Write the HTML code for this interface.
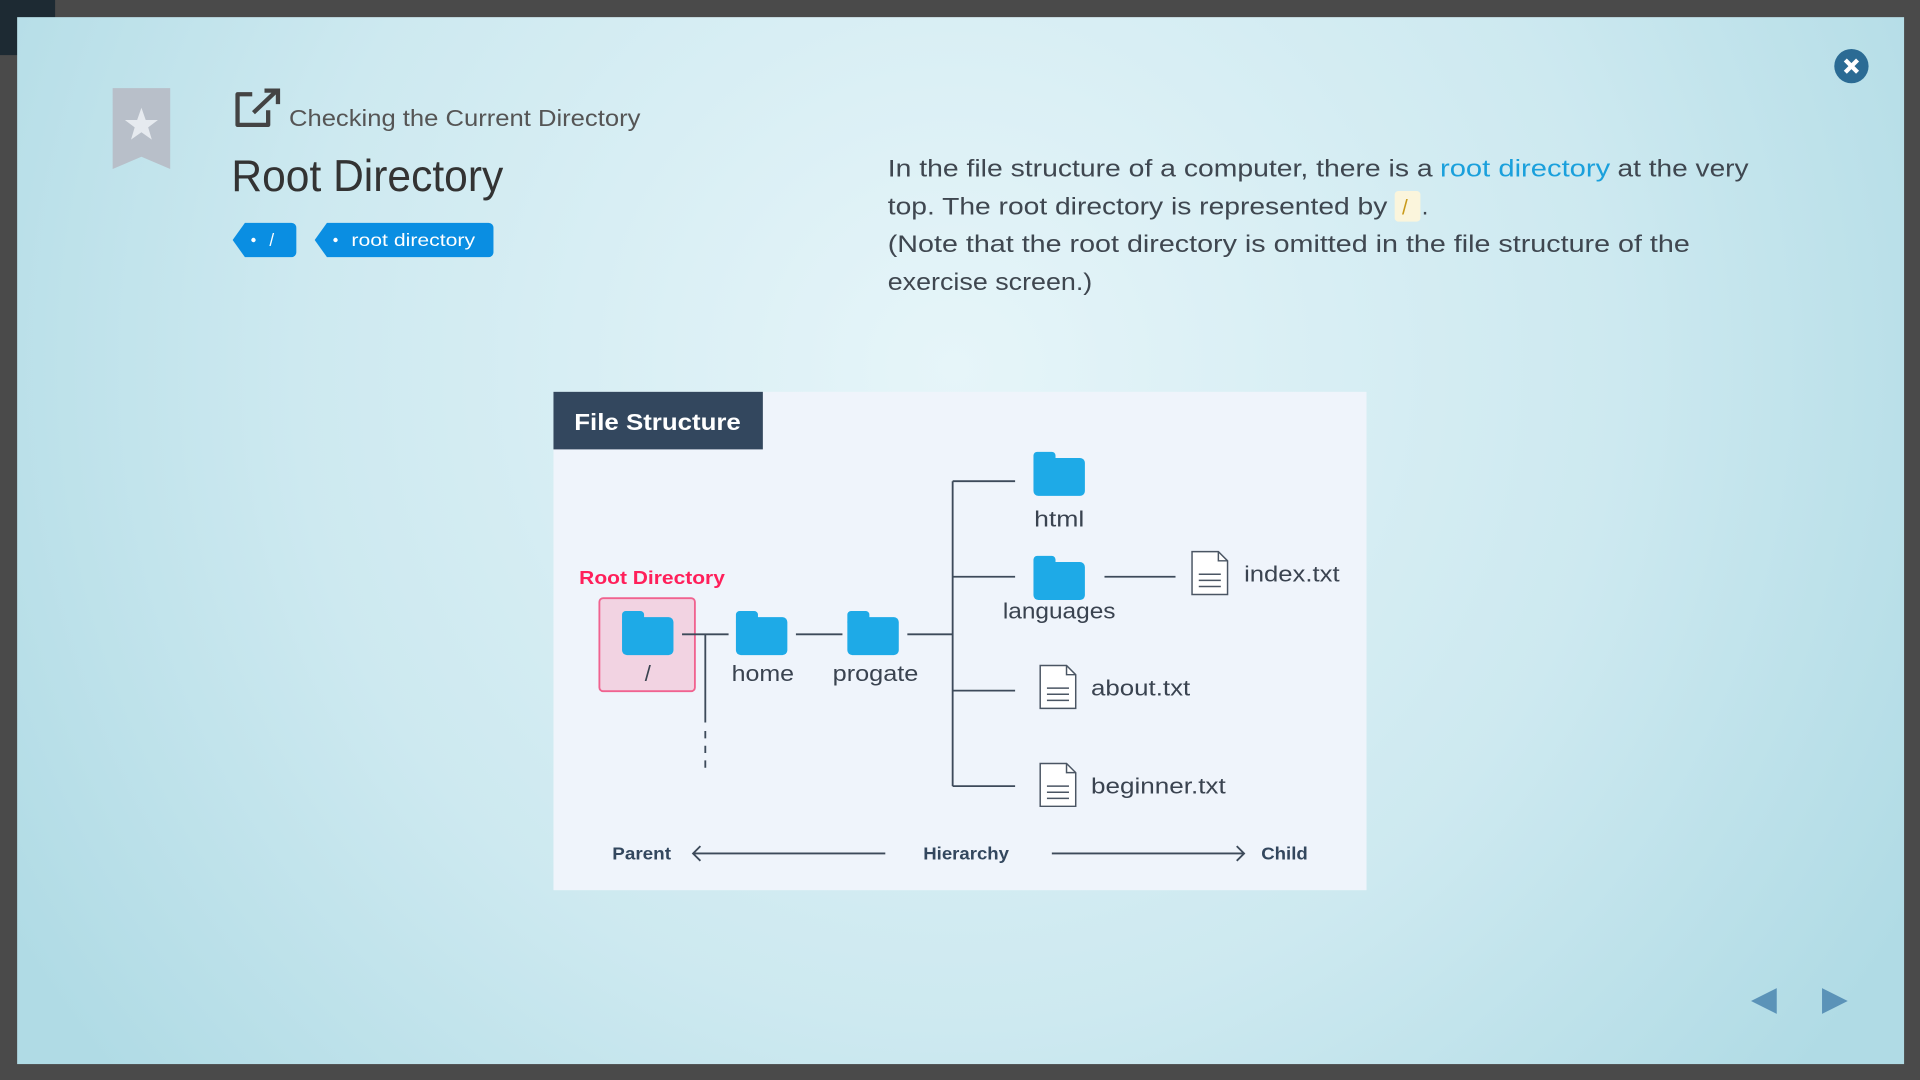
<!DOCTYPE html>
<html><head><meta charset="utf-8"><style>
html,body{margin:0;padding:0;width:1920px;height:1080px;overflow:hidden;background:#4a4a4a}
svg{display:block}
text{font-family:"Liberation Sans",sans-serif}
</style></head><body>
<svg width="1920" height="1080" viewBox="0 0 1568 882" xmlns="http://www.w3.org/2000/svg">
<defs>
<radialGradient id="bg" cx="780" cy="300" r="900" gradientUnits="userSpaceOnUse">
<stop offset="0" stop-color="#e6f5f9"/><stop offset="0.6" stop-color="#cde9f0"/><stop offset="1" stop-color="#b0dbe5"/>
</radialGradient>
<g id="fold"><rect x="-21" y="0" width="18" height="12" rx="3" fill="#1eaae7"/><rect x="-21" y="5" width="42" height="31" rx="4" fill="#1eaae7"/></g>
<g id="file"><path d="M0.5,0.5 H22 L29.5,8 V35.5 H0.5 Z" fill="#fff" stroke="#4a5563" stroke-width="1.2"/><path d="M22,0.5 V8 H29.5" fill="none" stroke="#4a5563" stroke-width="1.2"/><path d="M6,19H24M6,24H24M6,29H24" stroke="#4a5563" stroke-width="1.2"/></g>
</defs>
<rect width="1568" height="882" fill="#4a4a4a"/>
<rect x="0" y="0" width="45" height="45" fill="#1d2a33"/>
<rect x="14" y="14" width="1541" height="855" fill="url(#bg)"/>
<path d="M92,72 H139 V138 L115.5,128 L92,138 Z" fill="#b8bfc9"/>
<path d="M115.5,88 L119,98 L129,98 L121,104 L124,114 L115.5,108 L107,114 L110,104 L102,98 L112,98 Z" fill="#e6eaef"/>
<path d="M206,77 H194 V102 H219 V90" fill="none" stroke="#444" stroke-width="3.5" stroke-linejoin="round"/>
<path d="M207,92 L225,75 M216,74 H227 V85" fill="none" stroke="#444" stroke-width="3.5"/>
<text x="236" y="103" font-size="19" fill="#555" textLength="287" lengthAdjust="spacingAndGlyphs">Checking the Current Directory</text>
<text x="189" y="156" font-size="36" fill="#333" textLength="222" lengthAdjust="spacingAndGlyphs">Root Directory</text>
<path d="M200,182 H238 a4,4 0 0 1 4,4 V206 a4,4 0 0 1 -4,4 H200 L190,196 Z" fill="#0a8ee2"/>
<circle cx="207" cy="196" r="1.8" fill="#fff"/>
<text x="220" y="201" font-size="14" fill="#fff">/</text>
<path d="M267,182 H399 a4,4 0 0 1 4,4 V206 a4,4 0 0 1 -4,4 H267 L257,196 Z" fill="#0a8ee2"/>
<circle cx="274" cy="196" r="1.8" fill="#fff"/>
<text x="287" y="201" font-size="14.5" fill="#fff" textLength="101" lengthAdjust="spacingAndGlyphs">root directory</text>
<g font-size="20" fill="#3f4750">
<text x="725" y="144" textLength="445" lengthAdjust="spacingAndGlyphs">In the file structure of a computer, there is a</text>
<text x="1176" y="144" fill="#1aa0dc" textLength="139" lengthAdjust="spacingAndGlyphs">root directory</text>
<text x="1321" y="144" textLength="107" lengthAdjust="spacingAndGlyphs">at the very</text>
<text x="725" y="175" textLength="408" lengthAdjust="spacingAndGlyphs">top. The root directory is represented by</text>
<rect x="1139" y="156" width="21" height="25" rx="3" fill="#fbf5dc"/>
<text x="1145" y="175" fill="#c99a1a" font-size="17">/</text>
<text x="1161" y="175">.</text>
<text x="725" y="206" textLength="655" lengthAdjust="spacingAndGlyphs">(Note that the root directory is omitted in the file structure of the</text>
<text x="725" y="237" textLength="167" lengthAdjust="spacingAndGlyphs">exercise screen.)</text>
</g>
<circle cx="1512" cy="54" r="14" fill="#2b6b94"/>
<path d="M1507,49 L1517,59 M1517,49 L1507,59" stroke="#fff" stroke-width="3.5"/>
<path d="M1451,807 V828 L1430,817.5 Z" fill="#5b93b8"/>
<path d="M1488,807 V828 L1509,817.5 Z" fill="#5b93b8"/>
<rect x="452" y="320" width="664" height="407" fill="#eff4fb"/>
<rect x="452" y="320" width="171" height="47" fill="#33475e"/>
<text x="469" y="351" font-size="19" font-weight="bold" fill="#fff" textLength="136" lengthAdjust="spacingAndGlyphs">File Structure</text>
<text x="473" y="477" font-size="15" font-weight="bold" fill="#ff1f5a" textLength="119" lengthAdjust="spacingAndGlyphs">Root Directory</text>
<rect x="489.5" y="488.5" width="78" height="76" rx="3" fill="#f2d3e2" stroke="#f0628f" stroke-width="1.5"/>
<g stroke="#3d4a5a" stroke-width="1.5" fill="none">
<path d="M557,518 H595 M576,518 V590 M650,518 H688 M741,518 H778 M778,393 V642 M778,393 H829 M778,471 H829 M778,564 H829 M778,642 H829 M902,471 H960"/>
<path d="M576,597 V628" stroke-dasharray="6,6"/>
<path d="M566,697 H723 M859,697 H1016 M572,691 L566,697 L572,703 M1010,691 L1016,697 L1010,703"/>
</g>
<use href="#fold" x="529" y="499"/>
<use href="#fold" x="622" y="499"/>
<use href="#fold" x="713" y="499"/>
<use href="#fold" x="865" y="369"/>
<use href="#fold" x="865" y="454"/>
<use href="#file" x="973" y="450"/>
<use href="#file" x="849" y="543"/>
<use href="#file" x="849" y="623"/>
<g font-size="18" fill="#3a4350">
<text x="529" y="556" text-anchor="middle">/</text>
<text x="623" y="556" text-anchor="middle" textLength="51" lengthAdjust="spacingAndGlyphs">home</text>
<text x="715" y="556" text-anchor="middle" textLength="70" lengthAdjust="spacingAndGlyphs">progate</text>
<text x="865" y="430" text-anchor="middle" textLength="41" lengthAdjust="spacingAndGlyphs">html</text>
<text x="865" y="505" text-anchor="middle" textLength="92" lengthAdjust="spacingAndGlyphs">languages</text>
<text x="1016" y="475" textLength="78" lengthAdjust="spacingAndGlyphs">index.txt</text>
<text x="891" y="568" textLength="81" lengthAdjust="spacingAndGlyphs">about.txt</text>
<text x="891" y="648" textLength="110" lengthAdjust="spacingAndGlyphs">beginner.txt</text>
</g>
<g font-size="14" font-weight="bold" fill="#33475e">
<text x="500" y="702" textLength="48" lengthAdjust="spacingAndGlyphs">Parent</text>
<text x="754" y="702" textLength="70" lengthAdjust="spacingAndGlyphs">Hierarchy</text>
<text x="1030" y="702" textLength="38" lengthAdjust="spacingAndGlyphs">Child</text>
</g>
</svg>
</body></html>
